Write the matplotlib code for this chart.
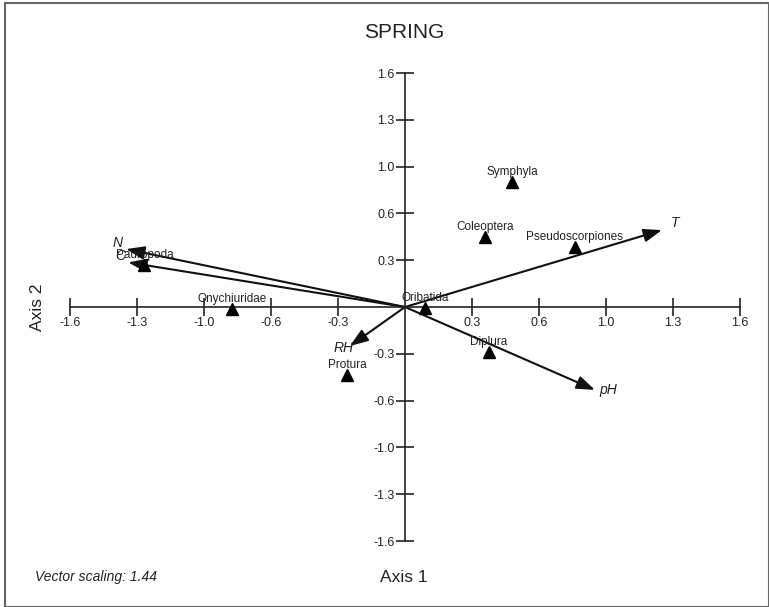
import matplotlib
matplotlib.use("Agg")
import matplotlib.pyplot as plt
import numpy as np
from matplotlib.patches import Rectangle

plt.rcParams['font.family'] = ['Liberation Sans', 'DejaVu Sans']

# species scores (Axis 1, Axis 2)
taxa = ['Symphyla', 'Coleoptera', 'Pseudoscorpiones', 'Oribatida',
        'Onychiuridae', 'Diplura', 'Protura', 'Pauropoda']
taxa_x = [0.511, 0.382, 0.811, 0.095, -0.826, 0.401, -0.277, -1.245]
taxa_y = [0.854, 0.478, 0.410, -0.007, -0.014, -0.308, -0.465, 0.290]

# environmental vectors (scaled)
env = ['T', 'pH', 'RH', 'N', 'C']
env_x = [1.227, 0.907, -0.263, -1.332, -1.322]
env_y = [0.526, -0.567, -0.267, 0.396, 0.305]

tick_vals = np.array([-5, -4, -3, -2, -1, 1, 2, 3, 4, 5]) * 0.32
tick_labels = ['-1.6', '-1.3', '-1.0', '-0.6', '-0.3', '0.3', '0.6', '1.0', '1.3', '1.6']

W, H = 769, 607
fig = plt.figure(figsize=(W / 100, H / 100), dpi=100)
# axes box in pixels: x 70..740, y 73..541
ax = fig.add_axes([70 / W, 1 - 541 / H, 670 / W, 468 / H])
ax.set_xlim(-1.6, 1.6)
ax.set_ylim(-1.6, 1.6)
ax.patch.set_visible(False)

for s in ['top', 'right']:
    ax.spines[s].set_visible(False)
for s in ['left', 'bottom']:
    ax.spines[s].set_position(('data', 0))
    ax.spines[s].set_linewidth(1.2)
    ax.spines[s].set_color('#222222')

ax.set_xticks(tick_vals)
ax.set_xticklabels(tick_labels)
ax.set_yticks(tick_vals)
ax.set_yticklabels(tick_labels)
ax.tick_params(direction='inout', length=13, width=1.2, color='#222222',
               labelsize=9, labelcolor='#222222', pad=1)

# species
ax.plot(taxa_x, taxa_y, linestyle='none', marker='^', color='black',
        markersize=8, clip_on=False, zorder=3)
for name, x, y in zip(taxa, taxa_x, taxa_y):
    ax.annotate(name, (x, y), xytext=(0, 7), textcoords='offset points',
                ha='center', va='center', fontsize=8.5, color='#222222',
                zorder=4)

# vectors
for name, x, y in zip(env, env_x, env_y):
    ax.annotate('', xy=(x, y), xytext=(0, 0),
                arrowprops=dict(arrowstyle='-|>,head_length=1.1,head_width=0.4',
                                color='#111111', lw=1.5,
                                shrinkA=0, shrinkB=0), zorder=2)
    # put label just beyond the tip, along the vector direction
    d = np.array([x * 209.5, y * 146.3])
    d = d / np.hypot(*d) * 8
    ax.annotate(name, (x, y), xytext=(d[0] + 2, d[1] + 3), textcoords='offset points',
                ha='center', va='center', fontsize=10, style='italic',
                color='#222222')

fig.text(404 / W, 1 - 33 / H, 'SPRING', ha='center', va='center',
         fontsize=15, color='#222222')
fig.text(404 / W, 1 - 578 / H, 'Axis 1', ha='center', va='center',
         fontsize=12.5, color='#222222')
fig.text(38 / W, 1 - 307 / H, 'Axis 2', ha='center', va='center',
         fontsize=12.5, rotation=90, color='#222222')
fig.text(35 / W, 1 - 577 / H, 'Vector scaling: 1.44', ha='left', va='center',
         fontsize=10, style='italic', color='#222222')

fig.patches.append(Rectangle((5 / W, 0.5 / H), 1 - 5.5 / W, 1 - 3.5 / H,
                             transform=fig.transFigure, fill=False,
                             edgecolor='#666666', lw=1.5))

fig.savefig('out.png', dpi=100)
